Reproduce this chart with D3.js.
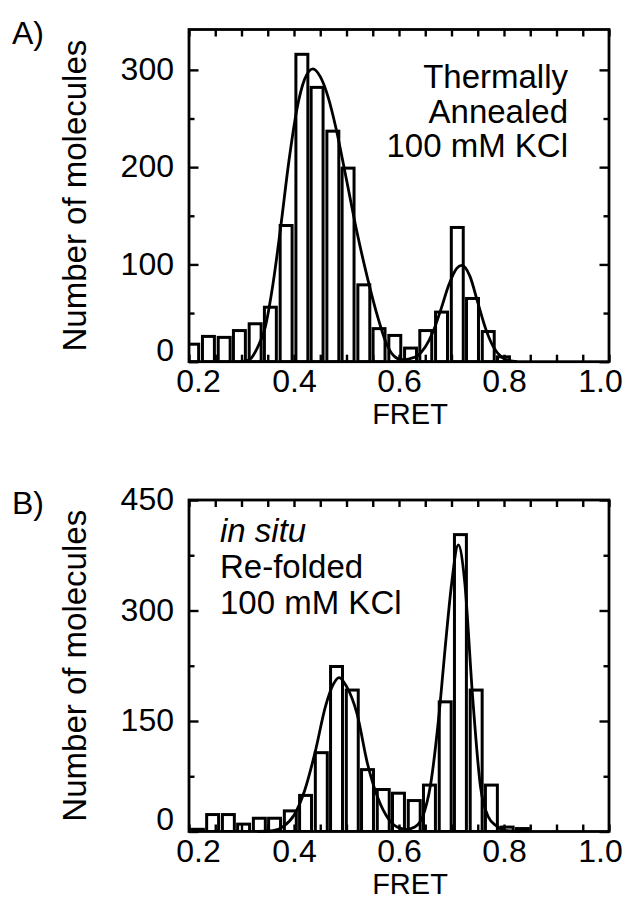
<!DOCTYPE html>
<html>
<head>
<meta charset="utf-8">
<script src="https://cdn.jsdelivr.net/npm/d3@7"></script>
<style>
  body { margin: 0; background: #fff; }
  text { font-family: "Liberation Sans", Arial, sans-serif; fill: #000; }
</style>
</head>
<body>
<svg id="chart" width="635" height="915"></svg>
<script>
// histogram bins (FRET bin centres) and counts
const binWidth = 0.0296;

const fretA = [0.207, 0.237, 0.267, 0.296, 0.326, 0.355, 0.385, 0.415, 0.444, 0.474, 0.503,
               0.533, 0.562, 0.592, 0.622, 0.651, 0.681, 0.711, 0.740, 0.770, 0.799];
const countA = [18, 26, 25, 32, 39, 56, 140, 316, 282, 237, 199,
                79, 34, 27, 14, 32, 51, 138, 65, 31, 5];

const fretB = [0.216, 0.245, 0.275, 0.304, 0.334, 0.363, 0.393, 0.422, 0.452, 0.481, 0.511,
               0.540, 0.570, 0.599, 0.629, 0.658, 0.688, 0.717, 0.747, 0.776, 0.806, 0.835];
const countB = [3, 23, 23, 10, 18, 18, 28, 49, 107, 224, 192,
                84, 57, 52, 42, 63, 176, 403, 192, 63, 6, 4];

// gaussian fit curves
const fitFretA = [0.30, 0.315, 0.33, 0.345, 0.36, 0.375, 0.39, 0.405, 0.42, 0.436, 0.45, 0.465,
                  0.48, 0.50, 0.52, 0.54, 0.56, 0.575, 0.59, 0.605, 0.62, 0.635, 0.65, 0.665,
                  0.68, 0.695, 0.71, 0.72, 0.735, 0.75, 0.765, 0.78, 0.795, 0.81, 0.825];
const fitCountA = [0, 2, 14, 35, 80, 140, 205, 258, 290, 301, 293, 272,
                   240, 187, 133, 86, 45, 20, 6, 2, 3, 6, 15, 31,
                   54, 79, 96, 99, 88, 61, 34, 15, 5, 1, 0];

const fitFretB = [0.33, 0.36, 0.38, 0.40, 0.42, 0.44, 0.46, 0.475, 0.486, 0.50, 0.52, 0.54,
                  0.56, 0.58, 0.60, 0.615, 0.63, 0.645, 0.66, 0.675, 0.69, 0.70, 0.713, 0.725,
                  0.74, 0.755, 0.77, 0.785, 0.80, 0.83];
const fitCountB = [0, 1, 7, 22, 55, 107, 170, 200, 209, 197, 160, 92,
                   45, 17, 5, 3, 6, 20, 63, 150, 265, 335, 389, 340,
                   185, 62, 20, 8, 2, 0];

const xTicks = [0.2, 0.4, 0.6, 0.8, 1.0];
const xMinorTicks = [0.2, 0.25, 0.3, 0.35, 0.4, 0.45, 0.5, 0.55, 0.6, 0.65, 0.7, 0.75, 0.8, 0.85, 0.9, 0.95, 1.0];
const yTicksA = [0, 100, 200, 300];
const yMinorA = [50, 150, 250];
const yTicksB = [0, 150, 300, 450];
const yMinorB = [75, 225, 375];

const svg = d3.select("#chart");
const left = 189, right = 609;

function drawPanel(cfg) {
  const x = d3.scaleLinear().domain([0.2, 1.0]).range([left, right]);
  const y = d3.scaleLinear().domain([0, cfg.yMax]).range([cfg.bottom, cfg.top]);
  const g = svg.append("g");
  const clipId = "clip" + cfg.name;

  g.append("clipPath").attr("id", clipId)
    .append("rect")
      .attr("x", left).attr("y", cfg.top - 5)
      .attr("width", right - left).attr("height", cfg.bottom - cfg.top + 5);

  const bars = cfg.fret.map((f, i) => ({ f, c: cfg.count[i] }));
  const inset = 1.8;

  g.append("g").attr("clip-path", `url(#${clipId})`)
    .selectAll("rect")
    .data(bars)
    .join("rect")
      .attr("x", d => x(d.f - binWidth / 2) + inset)
      .attr("width", d => x(d.f + binWidth / 2) - x(d.f - binWidth / 2) - 2 * inset)
      .attr("y", d => y(d.c))
      .attr("height", d => cfg.bottom - y(d.c))
      .attr("fill", "#fff")
      .attr("stroke", "#000")
      .attr("stroke-width", 3);

  const line = d3.line()
    .x((d, i) => x(cfg.fitFret[i]))
    .y(d => y(d))
    .curve(d3.curveMonotoneX);

  g.append("path")
    .attr("d", line(cfg.fitCount))
    .attr("fill", "none")
    .attr("stroke", "#000")
    .attr("stroke-width", 2.8);

  // axes, ticks pointing inward on all four sides
  const fs = 32;
  g.append("g")
    .attr("transform", `translate(0,${cfg.bottom})`)
    .call(d3.axisBottom(x).tickValues(xMinorTicks).tickSize(-7).tickFormat(""));
  const labels = g.append("g")
    .attr("transform", `translate(0,${cfg.bottom})`)
    .call(d3.axisBottom(x).tickValues(xTicks).tickSize(0).tickPadding(8).tickFormat(d3.format(".1f")));
  labels.selectAll("text").attr("font-size", fs);
  labels.selectAll("text").filter(d => d === 0.2).attr("dx", 9);
  labels.selectAll("text").filter(d => d === 1.0).attr("dx", -9);

  g.append("g")
    .attr("transform", `translate(0,${cfg.top})`)
    .call(d3.axisTop(x).tickValues(xMinorTicks).tickSize(-7).tickFormat(""));

  g.append("g")
    .attr("transform", `translate(${left},0)`)
    .call(d3.axisLeft(y).tickValues(cfg.yMinor).tickSize(-5.5).tickFormat(""));
  const yl = g.append("g")
    .attr("transform", `translate(${left},0)`)
    .call(d3.axisLeft(y).tickValues(cfg.yTicks).tickSize(-9.5).tickPadding(15));
  yl.selectAll("text").attr("font-size", fs).attr("dy", "0.3em");
  yl.selectAll("text").filter(d => d === 0).attr("dy", "-0.05em");

  g.append("g")
    .attr("transform", `translate(${right},0)`)
    .call(d3.axisRight(y).tickValues(cfg.yMinor).tickSize(-5.5).tickFormat(""));
  g.append("g")
    .attr("transform", `translate(${right},0)`)
    .call(d3.axisRight(y).tickValues(cfg.yTicks).tickSize(-9.5).tickFormat(""));

  g.selectAll(".domain").remove();
  g.selectAll(".tick line").attr("stroke", "#000").attr("stroke-width", 2.4);

  g.append("rect")
    .attr("x", left).attr("y", cfg.top)
    .attr("width", right - left).attr("height", cfg.bottom - cfg.top)
    .attr("fill", "none").attr("stroke", "#000").attr("stroke-width", 2.8);

  g.append("text")
    .attr("x", 74).attr("y", (cfg.top + cfg.bottom) / 2)
    .attr("transform", `rotate(-90,74,${(cfg.top + cfg.bottom) / 2})`)
    .attr("text-anchor", "middle").attr("dy", "0.35em")
    .attr("font-size", 33)
    .text("Number of molecules");

  g.append("text")
    .attr("x", x(0.6) + 11).attr("y", cfg.bottom + 62)
    .attr("text-anchor", "middle")
    .attr("font-size", 29)
    .text("FRET");

  g.append("text")
    .attr("x", 12).attr("y", cfg.top + 14)
    .attr("font-size", 32)
    .text(cfg.name + ")");

  const note = g.append("text")
    .attr("font-size", 33)
    .attr("text-anchor", cfg.noteAnchor);
  cfg.note.forEach((t, i) => {
    note.append("tspan")
      .attr("x", cfg.noteX)
      .attr("y", cfg.noteY + i * cfg.noteStep)
      .attr("font-style", t.italic ? "italic" : null)
      .text(t.text);
  });
}

drawPanel({
  name: "A", top: 29.5, bottom: 361.7, yMax: 341.5,
  yTicks: yTicksA, yMinor: yMinorA,
  fret: fretA, count: countA, fitFret: fitFretA, fitCount: fitCountA,
  note: [{ text: "Thermally" }, { text: "Annealed" }, { text: "100 mM KCl" }],
  noteAnchor: "end", noteX: 568, noteY: 88, noteStep: 34.5
});

drawPanel({
  name: "B", top: 500, bottom: 831.5, yMax: 450,
  yTicks: yTicksB, yMinor: yMinorB,
  fret: fretB, count: countB, fitFret: fitFretB, fitCount: fitCountB,
  note: [{ text: "in situ", italic: true }, { text: "Re-folded" }, { text: "100 mM KCl" }],
  noteAnchor: "start", noteX: 220, noteY: 542, noteStep: 36
});
</script>
</body>
</html>
